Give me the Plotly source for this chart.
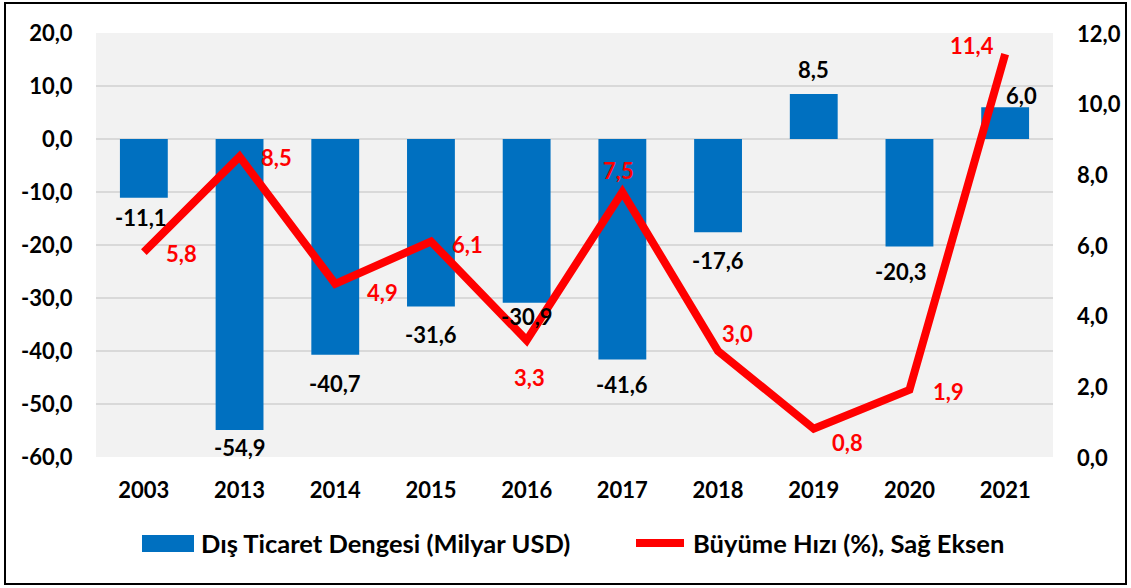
import plotly.graph_objects as go

# Yıllar ve seriler
years = ["2003", "2013", "2014", "2015", "2016", "2017", "2018", "2019", "2020", "2021"]
trade_balance = [-11.1, -54.9, -40.7, -31.6, -30.9, -41.6, -17.6, 8.5, -20.3, 6.0]
growth_rate = [5.8, 8.5, 4.9, 6.1, 3.3, 7.5, 3.0, 0.8, 1.9, 11.4]

left_ticks = [-60, -50, -40, -30, -20, -10, 0, 10, 20]
right_ticks = [0, 2, 4, 6, 8, 10, 12]

bar_name = "Dış Ticaret Dengesi (Milyar USD)"
line_name = "Büyüme Hızı (%), Sağ Eksen"

# Etiket kaydırmaları (piksel: sağa, aşağıya)
bar_label_offsets = [(-3, 20), (0, 18), (0, 29), (0, 28), (0, 14), (0, 25), (0, 28), (0, -24), (-8, 25), (16, -12)]
line_label_offsets = [(38, 1), (37, 1), (47, 9), (37, 3), (3, 37), (-4, -22), (19, -18), (34, 14), (39, 2), (-33, -9)]

FONT = "Lato"
BLUE = "#0070C0"
RED = "#FF0000"
LABEL_SIZE = 22
LEGEND_SIZE = 25.5

W, H = 1131, 588
L, R, T, B = 96, 1053, 33, 457
RIGHT_LABEL_X = 1075  # sağ eksen etiketlerinin sol kenarı


def fmt(v):
    return f"{v:.1f}".replace(".", ",")


def px(x):
    return (x - L) / (R - L)


def py(y):
    return (B - y) / (B - T)


fig = go.Figure()
fig.add_trace(go.Bar(x=years, y=trade_balance, name=bar_name, marker_color=BLUE,
                     marker_line_width=0, yaxis="y"))
fig.add_trace(go.Scatter(x=years, y=growth_rate, name=line_name, mode="lines",
                         line=dict(color=RED, width=8), yaxis="y2"))

label_font = dict(family=FONT, size=LABEL_SIZE, color="#000000", weight="bold")

# Değer etiketleri (kategori sırası ile konumlanır)
annotations = []
for i, (v, (dx, dy)) in enumerate(zip(trade_balance, bar_label_offsets)):
    annotations.append(dict(x=i, y=v, xref="x", yref="y", text=fmt(v), showarrow=False,
                            xshift=dx, yshift=-dy, font=label_font))
for i, (v, (dx, dy)) in enumerate(zip(growth_rate, line_label_offsets)):
    annotations.append(dict(x=i, y=v, xref="x", yref="y2", text=fmt(v), showarrow=False,
                            xshift=dx, yshift=-dy,
                            font=dict(family=FONT, size=LABEL_SIZE, color=RED, weight="bold")))

# Sağ eksen etiketleri, eksen değerlerine göre yerleştirilir
for v in right_ticks:
    annotations.append(dict(x=px(RIGHT_LABEL_X), y=v, xref="paper", yref="y2", text=fmt(v),
                            showarrow=False, xanchor="left", yanchor="middle", font=label_font))

# Lejant metinleri
annotations.append(dict(x=px(199), y=py(543), xref="paper", yref="paper", text=bar_name,
                        showarrow=False, xanchor="left", yanchor="middle",
                        font=dict(family=FONT, size=LEGEND_SIZE, color="#000000", weight="bold")))
annotations.append(dict(x=px(691), y=py(543), xref="paper", yref="paper", text=line_name,
                        showarrow=False, xanchor="left", yanchor="middle",
                        font=dict(family=FONT, size=LEGEND_SIZE, color="#000000", weight="bold")))

shapes = [
    # lejant işaretleri
    dict(type="rect", xref="paper", yref="paper", x0=px(142), x1=px(194), y0=py(535), y1=py(552),
         fillcolor=BLUE, line_width=0),
    dict(type="line", xref="paper", yref="paper", x0=px(636), x1=px(684), y0=py(543), y1=py(543),
         line=dict(color=RED, width=8)),
    # dış çerçeve
    dict(type="rect", xref="paper", yref="paper", x0=px(5), x1=px(1126), y0=py(3), y1=py(584),
         line=dict(color="#000000", width=2), fillcolor="rgba(0,0,0,0)", layer="above"),
]

fig.update_layout(
    width=W, height=H,
    margin=dict(l=L, r=W - R, t=T, b=H - B, autoexpand=False),
    paper_bgcolor="#FFFFFF",
    plot_bgcolor="#F2F2F2",
    bargap=0.5,
    showlegend=False,
    font=label_font,
    xaxis=dict(type="category", range=[-0.5, len(years) - 0.5], showgrid=False, showline=False,
               automargin=False,
               ticks="outside", ticklen=14, tickcolor="rgba(0,0,0,0)", tickfont=label_font),
    yaxis=dict(range=[-60, 20], tickvals=left_ticks, ticktext=[fmt(v) for v in left_ticks],
               showgrid=True, gridcolor="#D9D9D9", gridwidth=2, zeroline=False, automargin=False,
               ticks="outside", ticklen=18, tickcolor="rgba(0,0,0,0)", tickfont=label_font),
    yaxis2=dict(range=[0, 12], tickvals=right_ticks, showticklabels=False,
                overlaying="y", side="right", showgrid=False, zeroline=False, automargin=False,
                ticks=""),
    annotations=annotations,
    shapes=shapes,
)

fig.write_html("out.html")
